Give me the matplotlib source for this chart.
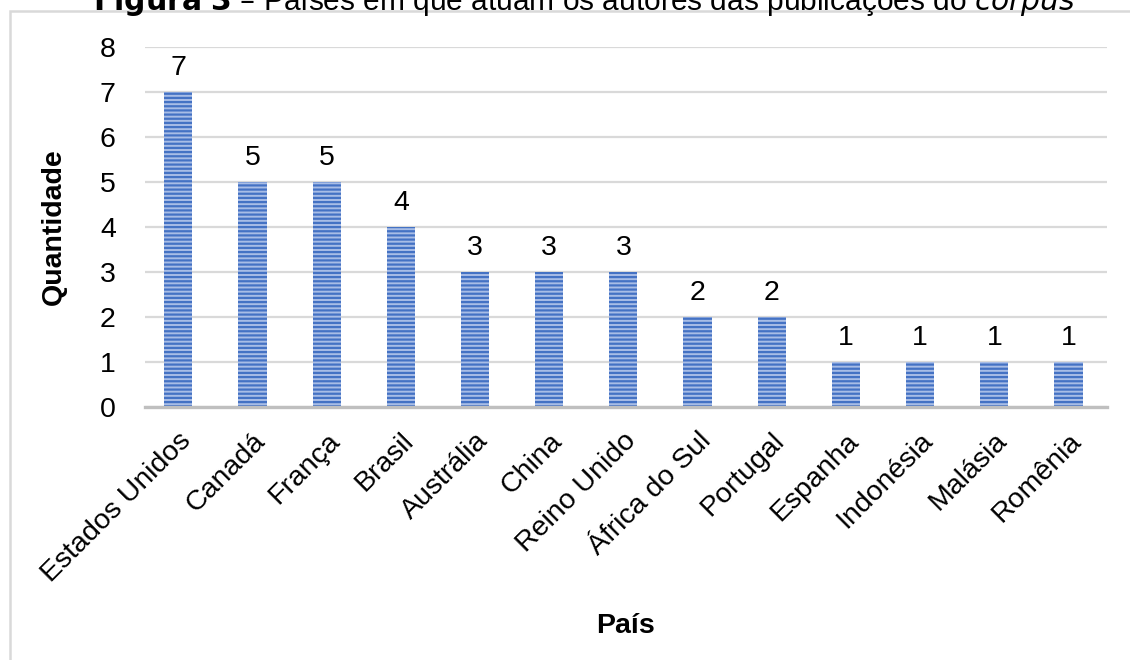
import matplotlib
matplotlib.use("Agg")
import matplotlib.pyplot as plt
from matplotlib.patches import Rectangle

countries = ["Estados Unidos", "Canadá", "França", "Brasil", "Austrália", "China",
             "Reino Unido", "África do Sul", "Portugal", "Espanha", "Indonésia",
             "Malásia", "Romênia"]
values = [7, 5, 5, 4, 3, 3, 3, 2, 2, 1, 1, 1, 1]
yticks = [0, 1, 2, 3, 4, 5, 6, 7, 8]

plt.rcParams['font.family'] = ['Liberation Sans', 'DejaVu Sans']
plt.rcParams['hatch.linewidth'] = 1.6
FS = 20.5

W, H = 1130, 660
fig = plt.figure(figsize=(W / 100, H / 100), dpi=100)
fig.patch.set_facecolor('white')

# outer chart border (extends past the right and bottom edges)
fig.patches.append(Rectangle((10 / W, -0.05), 1.2, 1 - 11 / H + 0.05,
                             transform=fig.transFigure, fill=False,
                             edgecolor='#d9d9d9', linewidth=1.8, zorder=0))

# title, partly cut off at the top as in the source
fig.text(0.517, 1 - 10 / H,
         r"$\bf{Figura\ 3}$ – Países em que atuam os autores das publicações do $\it{corpus}$",
         ha='center', va='baseline', fontsize=21.5, color='black')

ax = fig.add_axes([145 / W, 1 - 407 / H, (1107 - 145) / W, (407 - 47) / H])
x = list(range(len(countries)))
bars = ax.bar(x, values, width=0.38, color='#a8bde6', edgecolor='#4472c4',
              linewidth=0, hatch='----', zorder=3)

for xi, v in zip(x, values):
    ax.annotate(str(v), (xi, v), xytext=(0, 8), textcoords='offset points',
                ha='center', va='bottom', fontsize=FS, color='black')

ax.set_ylim(0, 8)
ax.set_xlim(-0.45, 12.52)
ax.set_yticks(yticks)
ax.set_yticklabels([str(t) for t in yticks], fontsize=FS)
ax.set_xticks(x)
ax.set_xticklabels(countries, rotation=45, ha='right', va='top',
                   rotation_mode='anchor', fontsize=FS)
ax.tick_params(axis='both', length=0)
ax.tick_params(axis='y', pad=21)
ax.tick_params(axis='x', pad=15)

ax.grid(axis='y', color='#d9d9d9', linewidth=1.6, zorder=0)
ax.set_axisbelow(True)
for s in ['top', 'right', 'left']:
    ax.spines[s].set_visible(False)
ax.spines['bottom'].set_color('#bfbfbf')
ax.spines['bottom'].set_linewidth(2.4)
ax.spines['bottom'].set_zorder(4)

ax.set_ylabel('Quantidade', fontsize=FS, fontweight='bold')
ax.set_xlabel('País', fontsize=FS, fontweight='bold')
ax.xaxis.set_label_coords(0.5, -(613 - 407) / (407 - 47))
ax.yaxis.set_label_coords(-(145 - 67) / (1107 - 145), 0.5)

fig.savefig('out.png', dpi=100, facecolor='white')
